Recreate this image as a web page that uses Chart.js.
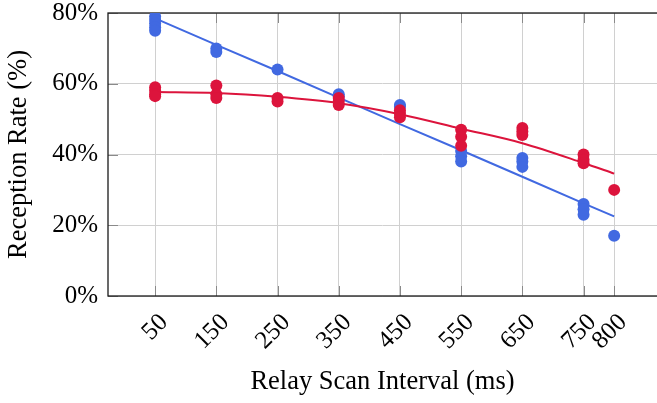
<!DOCTYPE html>
<html>
<head>
<meta charset="utf-8">
<script src="https://cdn.jsdelivr.net/npm/chart.js@4/dist/chart.umd.min.js"></script>
<style>
    html, body { margin: 0; padding: 0; background: #fff; }
    #wrap { width: 657px; height: 403px; }
</style>
</head>
<body>
<div id="wrap"><canvas id="rateChart" width="657" height="403"></canvas></div>
<script>
// scan intervals (ms) and tick labels
var intervals = [50, 150, 250, 350, 450, 550, 650, 750, 800];
var yTicks = [0, 20, 40, 60, 80];

// measured reception rates (%) per interval, several runs each
var blueRates = [
    [79, 78, 77, 76, 75],
    [70, 69],
    [64],
    [57, 56.5],
    [54, 53.5],
    [41, 39.5, 38],
    [39, 38, 36.5],
    [26, 24.5, 23],
    [17]
];
var redRates = [
    [59, 58, 57, 56.5],
    [59.5, 57, 56],
    [56, 55],
    [56, 55, 54],
    [52.5, 51.5, 50.5],
    [47, 45, 42.5],
    [47.5, 46.5, 45.5],
    [40, 38.5, 37.5],
    [30]
];

// fitted trend lines
var blueFit = [78.5, 71, 63.6, 56.1, 48.6, 41.2, 33.7, 26.2, 22.5];
var redFit = [57.7, 57.4, 56.3, 54.5, 51.4, 47.3, 43.2, 37.6, 34.6];

var BLUE = '#4169e1';
var RED = '#dc143c';
var FONT = 'Liberation Serif';

function toPoints(groups) {
    var pts = [];
    groups.forEach(function (vals, i) {
        vals.forEach(function (v) {
            pts.push({ x: intervals[i], y: v });
        });
    });
    return pts;
}

function toLine(vals) {
    return vals.map(function (v, i) { return { x: intervals[i], y: v }; });
}

// inner tick marks + black frame like the pgfplots original
var framePlugin = {
    id: 'framePlugin',
    beforeDatasetsDraw: function (chart) {
        var ctx = chart.ctx, a = chart.chartArea;
        var xs = chart.scales.x, ys = chart.scales.y;
        ctx.save();
        ctx.strokeStyle = '#8a8a8a';
        ctx.lineWidth = 1;
        intervals.forEach(function (v) {
            var px = Math.round(xs.getPixelForValue(v)) + 0.5;
            ctx.beginPath();
            ctx.moveTo(px, a.bottom); ctx.lineTo(px, a.bottom - 10);
            ctx.moveTo(px, a.top); ctx.lineTo(px, a.top + 10);
            ctx.stroke();
        });
        yTicks.forEach(function (v) {
            var py = Math.round(ys.getPixelForValue(v)) + 0.5;
            ctx.beginPath();
            ctx.moveTo(a.left, py); ctx.lineTo(a.left + 10, py);
            ctx.stroke();
        });
        ctx.strokeStyle = '#1a1a1a';
        ctx.lineWidth = 1.3;
        ctx.strokeRect(a.left, a.top, a.right - a.left + 20, a.bottom - a.top);
        ctx.restore();
    }
};

var ctx = document.getElementById('rateChart').getContext('2d');
var rateChart = new Chart(ctx, {
    type: 'scatter',
    data: {
        datasets: [{
            label: 'red',
            data: toPoints(redRates),
            backgroundColor: RED,
            borderColor: RED,
            pointRadius: 6,
            pointHoverRadius: 6,
            borderWidth: 0
        }, {
            label: 'blue',
            data: toPoints(blueRates),
            backgroundColor: BLUE,
            borderColor: BLUE,
            pointRadius: 6,
            pointHoverRadius: 6,
            borderWidth: 0
        }, {
            label: 'red fit',
            data: toLine(redFit),
            showLine: true,
            borderColor: RED,
            borderWidth: 2,
            pointRadius: 0,
            cubicInterpolationMode: 'monotone'
        }, {
            label: 'blue fit',
            data: toLine(blueFit),
            showLine: true,
            borderColor: BLUE,
            borderWidth: 2,
            pointRadius: 0
        }]
    },
    options: {
        responsive: false,
        animation: false,
        layout: { autoPadding: false, padding: { top: 13, right: 0, left: 0, bottom: 0 } },
        plugins: {
            legend: { display: false },
            tooltip: { enabled: false }
        },
        scales: {
            x: {
                type: 'linear',
                min: -27,
                max: 870,
                afterBuildTicks: function (axis) {
                    axis.ticks = intervals.map(function (v) { return { value: v }; });
                },
                afterFit: function (axis) {
                    axis.height = 107;
                    axis.paddingRight = 0;
                    axis.paddingLeft = 0;
                },
                grid: { color: '#d0d0d0', lineWidth: 1, drawTicks: false },
                border: { display: false },
                ticks: {
                    autoSkip: false,
                    minRotation: 45,
                    maxRotation: 45,
                    padding: 12,
                    labelOffset: 9,
                    color: '#000',
                    font: { family: FONT, size: 25 }
                },
                title: {
                    display: true,
                    text: 'Relay Scan Interval (ms)',
                    color: '#000',
                    font: { family: FONT, size: 26.5 },
                    padding: { top: 0, bottom: 5 }
                }
            },
            y: {
                min: 0,
                max: 80,
                afterBuildTicks: function (axis) {
                    axis.ticks = yTicks.map(function (v) { return { value: v }; });
                },
                afterFit: function (axis) {
                    axis.width = 108;
                    axis.paddingTop = 0;
                    axis.paddingBottom = 0;
                },
                grid: { color: '#d0d0d0', lineWidth: 1, drawTicks: false },
                border: { display: false },
                ticks: {
                    padding: 10,
                    color: '#000',
                    font: { family: FONT, size: 25 },
                    callback: function (v) { return v + '%'; }
                },
                title: {
                    display: true,
                    text: 'Reception Rate (%)',
                    color: '#000',
                    font: { family: FONT, size: 26.5 },
                    padding: { top: 3, bottom: 0 }
                }
            }
        }
    },
    plugins: [framePlugin]
});
</script>
</body>
</html>
